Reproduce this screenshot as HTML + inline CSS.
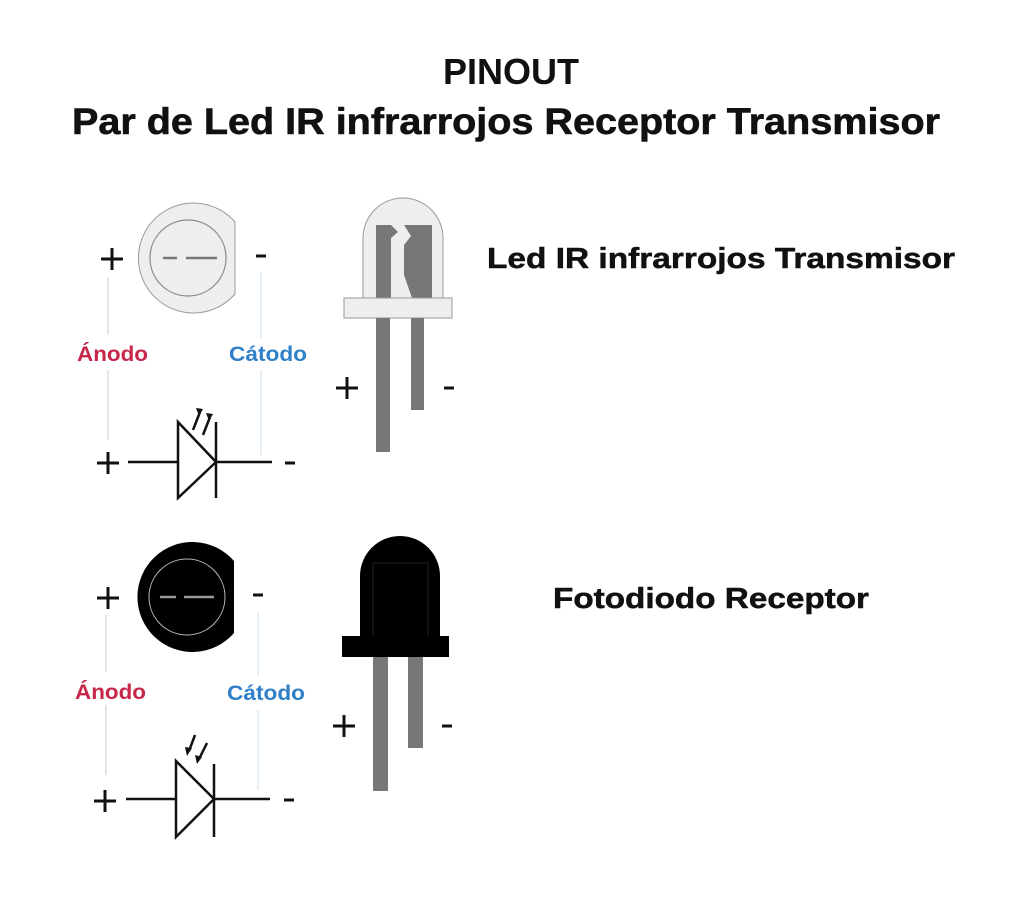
<!DOCTYPE html>
<html><head><meta charset="utf-8"><style>
html,body{margin:0;padding:0;background:#fff;}
svg{display:block}
text{font-family:"Liberation Sans",sans-serif;font-weight:bold}
</style></head><body>
<svg width="1024" height="900" viewBox="0 0 1024 900" xmlns="http://www.w3.org/2000/svg">
<rect width="1024" height="900" fill="#fff"/>
<text x="511" y="84" font-size="36" text-anchor="middle" fill="#111">PINOUT</text>
<text x="72" y="134" font-size="37" textLength="868" lengthAdjust="spacingAndGlyphs" fill="#111" stroke="#111" stroke-width="0.6">Par de Led IR infrarrojos Receptor Transmisor</text>

<!-- TOP -->
<g>
<path d="M235,222 A55,55 0 1 0 235,294 Z" fill="#eee" stroke="#999" stroke-width="1"/>
<circle cx="188" cy="258" r="38" fill="#eee" stroke="#888" stroke-width="1.2"/>
<line x1="163" y1="258" x2="177" y2="258" stroke="#777" stroke-width="2.5"/>
<line x1="186" y1="258" x2="217" y2="258" stroke="#777" stroke-width="2.5"/>
<g stroke="#111" stroke-width="3">
<line x1="101" y1="259" x2="123" y2="259"/><line x1="112" y1="248" x2="112" y2="270"/>
<line x1="256" y1="256" x2="266" y2="256"/>
<line x1="97" y1="463" x2="119" y2="463"/><line x1="108" y1="452" x2="108" y2="474"/>
<line x1="285" y1="463" x2="295" y2="463"/>
<line x1="336" y1="388" x2="358" y2="388"/><line x1="347" y1="377" x2="347" y2="399"/>
<line x1="444" y1="388" x2="454" y2="388"/>
</g>
<line x1="108" y1="277" x2="108" y2="335" stroke="#ccc"/>
<line x1="108" y1="370" x2="108" y2="440" stroke="#ccc"/>
<line x1="261" y1="272" x2="261" y2="338" stroke="#cde"/>
<line x1="261" y1="370" x2="261" y2="455" stroke="#cde"/>
<text x="77" y="361" font-size="21" fill="#c8274a" textLength="71" lengthAdjust="spacingAndGlyphs">Ánodo</text>
<text x="229" y="361" font-size="21" fill="#2f80c8" textLength="78" lengthAdjust="spacingAndGlyphs">Cátodo</text>
<line x1="128" y1="462" x2="178" y2="462" stroke="#111" stroke-width="2.5"/>
<polygon points="178,422 178,498 216,462" fill="none" stroke="#111" stroke-width="2.5"/>
<line x1="216" y1="422" x2="216" y2="498" stroke="#111" stroke-width="2.5"/>
<line x1="216" y1="462" x2="272" y2="462" stroke="#111" stroke-width="2.5"/>
<line x1="193" y1="430" x2="200" y2="412" stroke="#111" stroke-width="2.5"/>
<polygon points="196,408 203,409 199,416" fill="#111"/>
<line x1="203" y1="435" x2="210" y2="417" stroke="#111" stroke-width="2.5"/>
<polygon points="206,413 213,414 209,421" fill="#111"/>
<!-- LED -->
<path d="M363,298 L363,238 A40,40 0 0 1 443,238 L443,298 Z" fill="#eee" stroke="#999"/>
<rect x="376" y="225" width="56" height="73" fill="#777"/>
<polygon points="391,298 391,238 398,232 391,225 404,225 411,236 404,245 404,275 412,298" fill="#eee"/>
<rect x="344" y="298" width="108" height="20" fill="#eee" stroke="#999"/>
<rect x="376" y="318" width="14" height="134" fill="#777"/>
<rect x="411" y="318" width="13" height="92" fill="#777"/>
<text x="487" y="268" font-size="29" fill="#111" textLength="468" lengthAdjust="spacingAndGlyphs" stroke="#111" stroke-width="0.5">Led IR infrarrojos Transmisor</text>
</g>

<!-- BOTTOM -->
<g>
<path d="M234,561 A55,55 0 1 0 234,633 Z" fill="#000"/>
<circle cx="187" cy="597" r="38" fill="#000" stroke="#bbb" stroke-width="1"/>
<line x1="160" y1="597" x2="176" y2="597" stroke="#999" stroke-width="2.5"/>
<line x1="184" y1="597" x2="214" y2="597" stroke="#999" stroke-width="2.5"/>
<g stroke="#111" stroke-width="3">
<line x1="97" y1="598" x2="119" y2="598"/><line x1="108" y1="587" x2="108" y2="609"/>
<line x1="253" y1="595" x2="263" y2="595"/>
<line x1="94" y1="801" x2="116" y2="801"/><line x1="105" y1="790" x2="105" y2="812"/>
<line x1="284" y1="800" x2="294" y2="800"/>
<line x1="333" y1="726" x2="355" y2="726"/><line x1="344" y1="715" x2="344" y2="737"/>
<line x1="442" y1="726" x2="452" y2="726"/>
</g>
<line x1="106" y1="615" x2="106" y2="672" stroke="#ccc"/>
<line x1="106" y1="705" x2="106" y2="775" stroke="#ccc"/>
<line x1="258" y1="612" x2="258" y2="675" stroke="#cde"/>
<line x1="258" y1="710" x2="258" y2="790" stroke="#cde"/>
<text x="75" y="699" font-size="21" fill="#c8274a" textLength="71" lengthAdjust="spacingAndGlyphs">Ánodo</text>
<text x="227" y="700" font-size="21" fill="#2f80c8" textLength="78" lengthAdjust="spacingAndGlyphs">Cátodo</text>
<line x1="126" y1="799" x2="176" y2="799" stroke="#111" stroke-width="2.5"/>
<polygon points="176,761 176,837 214,799" fill="none" stroke="#111" stroke-width="2.5"/>
<line x1="214" y1="764" x2="214" y2="837" stroke="#111" stroke-width="2.5"/>
<line x1="214" y1="799" x2="270" y2="799" stroke="#111" stroke-width="2.5"/>
<line x1="195" y1="735" x2="189" y2="751" stroke="#111" stroke-width="2.5"/>
<polygon points="185,747 192,748 187,756" fill="#111"/>
<line x1="207" y1="743" x2="199" y2="759" stroke="#111" stroke-width="2.5"/>
<polygon points="195,755 202,757 197,764" fill="#111"/>
<!-- Photodiode -->
<path d="M360,637 L360,576 A40,40 0 0 1 440,576 L440,637 Z" fill="#000"/>
<rect x="373" y="563" width="55" height="74" fill="none" stroke="#222" stroke-width="1"/>
<rect x="342" y="636" width="107" height="21" fill="#000"/>
<rect x="373" y="657" width="15" height="134" fill="#777"/>
<rect x="408" y="657" width="15" height="91" fill="#777"/>
<text x="553" y="608" font-size="29" fill="#111" textLength="316" lengthAdjust="spacingAndGlyphs" stroke="#111" stroke-width="0.5">Fotodiodo Receptor</text>
</g>
</svg>
</body></html>
